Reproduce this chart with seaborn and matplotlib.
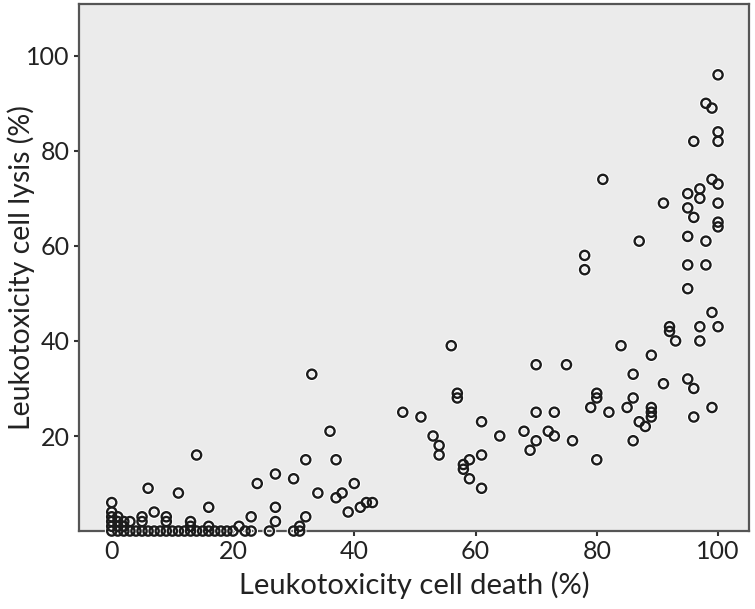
import matplotlib
matplotlib.use('Agg')
import matplotlib.pyplot as plt
import seaborn as sns
import pandas as pd

# leukotoxicity values (%)
cell_death = [
    # 0-20 cluster near the origin
    0, 0, 0, 0, 0, 0, 1, 1, 1, 1, 2, 2, 2, 3, 3, 4, 5, 5, 5, 6, 6, 7, 7, 8,
    9, 9, 9, 10, 11, 11, 12, 13, 13, 13, 14, 14, 15, 16, 16, 16, 17, 18, 19, 20,
    # 21-32
    21, 22, 23, 23, 24, 26, 27, 27, 27, 30, 30, 31, 31, 32, 32,
    # 33-43
    33, 34, 36, 37, 37, 38, 39, 40, 41, 42, 43,
    # 48-64
    48, 51, 53, 54, 54, 56, 57, 57, 58, 58, 59, 59, 61, 61, 61, 64,
    # 68-80
    68, 69, 70, 70, 70, 72, 73, 73, 75, 76, 78, 78, 79, 80, 80, 80,
    # 81-89
    81, 82, 84, 85, 86, 86, 86, 87, 87, 88, 89, 89, 89, 89,
    # 91-96
    91, 91, 92, 92, 93, 95, 95, 95, 95, 95, 95, 96, 96, 96, 96,
    # 97-99
    97, 97, 97, 97, 98, 98, 98, 99, 99, 99, 99,
    # 100
    100, 100, 100, 100, 100, 100, 100, 100,
]
cell_lysis = [
    0, 1, 2, 3, 4, 6, 0, 1, 2, 3, 0, 1, 2, 0, 2, 0, 0, 2, 3, 0, 9, 0, 4, 0,
    0, 2, 3, 0, 0, 8, 0, 0, 1, 2, 0, 16, 0, 0, 1, 5, 0, 0, 0, 0,
    1, 0, 0, 3, 10, 0, 2, 5, 12, 0, 11, 0, 1, 3, 15,
    33, 8, 21, 7, 15, 8, 4, 10, 5, 6, 6,
    25, 24, 20, 18, 16, 39, 29, 28, 14, 13, 15, 11, 23, 16, 9, 20,
    21, 17, 35, 25, 19, 21, 25, 20, 35, 19, 58, 55, 26, 29, 28, 15,
    74, 25, 39, 26, 33, 28, 19, 61, 23, 22, 37, 26, 25, 24,
    69, 31, 43, 42, 40, 71, 68, 62, 56, 51, 32, 82, 66, 30, 24,
    72, 70, 43, 40, 90, 61, 56, 89, 74, 46, 26,
    96, 84, 82, 73, 69, 65, 64, 43,
]

df = pd.DataFrame({'death': cell_death, 'lysis': cell_lysis})

sns.set_style('ticks')
plt.rcParams['font.family'] = ['Lato', 'DejaVu Sans']

fig = plt.figure(figsize=(7.55, 6.09), dpi=100)
ax = fig.add_axes([0.1046, 0.128, 0.8874, 0.8654])
ax.set_facecolor('#ebebeb')

# white halo under the rings, like the SPSS output
sns.scatterplot(data=df, x='death', y='lysis', ax=ax, marker='o', s=44,
                fc='none', ec='white', lw=3.2, clip_on=False, zorder=3)
sns.scatterplot(data=df, x='death', y='lysis', ax=ax, marker='o', s=44,
                fc='none', ec='#1c1c1c', lw=1.7, clip_on=False, zorder=4)

ax.set_xlim(-5.4, 105.1)
ax.set_ylim(0, 110.9)
ax.set_xticks([0, 20, 40, 60, 80, 100])
ax.set_yticks([20, 40, 60, 80, 100])
ax.tick_params(direction='out', length=3.6, width=1.5, color='#333333',
               labelsize=18, labelcolor='#222222', pad=3)
for side in ['left', 'right', 'top', 'bottom']:
    ax.spines[side].set_color('#555555')
    ax.spines[side].set_linewidth(1.6)

ax.set_xlabel('Leukotoxicity cell death (%)', fontsize=21, color='#222222', labelpad=6)
ax.set_ylabel('Leukotoxicity cell lysis (%)', fontsize=20.5, color='#222222')
ax.yaxis.label.set_va('center')
ax.yaxis.set_label_coords(-0.086, 0.5)

fig.savefig('out.png', dpi=100)
